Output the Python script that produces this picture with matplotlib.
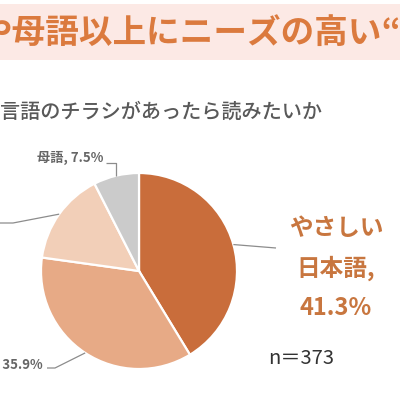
import numpy as np
import matplotlib
matplotlib.use("Agg")
import matplotlib.pyplot as plt
from matplotlib.patches import Rectangle

plt.rcParams['font.family'] = ['Noto Sans CJK JP', 'DejaVu Sans']

# data (clockwise from 12 o'clock)
values = [41.3, 35.9, 15.3, 7.5]
names = ["やさしい\n日本語", "", "", "母語"]
colors = ["#C96D3B", "#E7AA86", "#F2CFB8", "#CBCBCB"]
title = "や母語以上にニーズの高い“"
subtitle = "言語のチラシがあったら読みたいか"
n_text = "n＝373"

W = H = 400


def py(y):
    # image row -> data y
    return H - y


fig = plt.figure(figsize=(4, 4), dpi=100)
ax = fig.add_axes([0, 0, 1, 1])

# title band
ax.add_patch(Rectangle((0, py(60)), W, 56, facecolor="#FCE9E5", edgecolor="none", zorder=0))
ax.text(-21, py(33), title, ha='left', va='center', fontsize=24.2, fontweight='bold', color="#DB7A3E")
ax.text(322, py(112), subtitle, ha='right', va='center', fontsize=14.5, fontweight='medium', color="#595959")

cx, cy, r = 139, py(271), 98
wedges, _ = ax.pie(values, colors=colors, startangle=90, counterclock=False,
                   center=(cx, cy), radius=r, frame=True,
                   wedgeprops=dict(edgecolor="white", linewidth=1.6))
ax.set_xlim(0, W)
ax.set_ylim(0, H)
ax.set_aspect('equal')
ax.axis('off')

line_kw = dict(color="#8C8C8C", linewidth=0.9, solid_capstyle='butt')


def edge_point(w):
    a = np.deg2rad((w.theta1 + w.theta2) / 2)
    return cx + r * np.cos(a), cy + r * np.sin(a)


# 41.3% - right label
ex, ey = edge_point(wedges[0])
ax.plot([ex, 276], [ey, py(248)], **line_kw)
ax.text(336, py(268), f"{names[0]},\n{values[0]}%", ha='center', va='center',
        fontsize=17, fontweight='bold', color="#C8763F", linespacing=1.8)

# 35.9% - lower left
ex, ey = edge_point(wedges[1])
ax.plot([ex, 55, 47], [ey, py(368), py(368)], **line_kw)
ax.text(43, py(365), f", {values[1]}%", ha='right', va='center',
        fontsize=9.5, fontweight='bold', color="#666666")

# 15.3% - label runs off the left edge
ex, ey = edge_point(wedges[2])
ax.plot([ex, 13, -10], [ey, py(223), py(223)], **line_kw)

# 7.5% - top
ex, ey = edge_point(wedges[3])
ax.plot([ex, ex, 106], [ey, py(163), py(163)], **line_kw)
ax.text(103, py(158), f"{names[3]}, {values[3]}%", ha='right', va='center',
        fontsize=9.5, fontweight='bold', color="#666666")

ax.text(268, py(358), n_text, ha='left', va='center', fontsize=14.5, color="#333333")

fig.savefig("out.png", dpi=100)
